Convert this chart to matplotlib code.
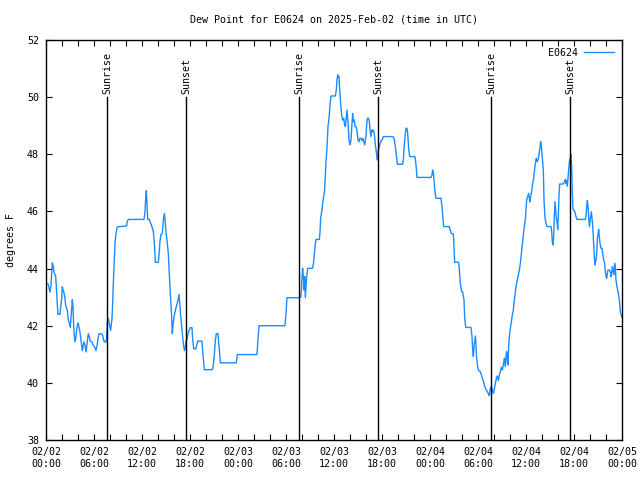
import matplotlib
matplotlib.use("Agg")
import matplotlib.pyplot as plt

plt.rcParams['font.family'] = ['DejaVu Sans Mono']

title = "Dew Point for E0624 on 2025-Feb-02 (time in UTC)"
series_name = "E0624"
ylabel = "degrees F"

# time in hours since 2025-02-02 00:00 UTC
hours = [
    0.0, 0.25, 0.5, 0.625, 0.79, 0.875, 1.0, 1.21, 1.29, 1.42, 1.5, 1.75, 1.83, 1.96, 2.04, 2.125,
    2.25, 2.375, 2.46, 2.67, 2.75, 2.83, 2.96, 3.04, 3.125, 3.21, 3.29, 3.375, 3.46, 3.54, 3.625,
    3.75, 3.875, 4.0, 4.08, 4.21, 4.33, 4.46, 4.54, 4.625, 4.75, 4.875, 5.0, 5.08, 5.21, 5.29,
    5.42, 5.54, 5.75, 5.92, 6.08, 6.25, 6.375, 6.5, 6.625, 7.04, 7.17, 7.29, 7.5, 7.58, 7.67,
    7.79, 7.92, 8.0, 8.08, 8.17, 8.25, 8.33, 8.42, 8.54, 8.625, 8.75, 8.83, 8.92, 10.08, 10.17,
    10.33, 12.25, 12.375, 12.46, 12.54, 12.625, 12.71, 12.92, 13.0, 13.125, 13.25, 13.42,
    13.58, 13.67, 14.04, 14.125, 14.25, 14.375, 14.54, 14.67, 14.79, 14.875, 15.0, 15.125,
    15.29, 15.42, 15.58, 15.71, 15.79, 15.875, 16.0, 16.17, 16.33, 16.5, 16.625, 16.71, 16.83,
    16.96, 17.08, 17.21, 17.33, 17.42, 17.5, 17.625, 17.75, 17.92, 18.04, 18.25, 18.33, 18.46,
    18.71, 18.83, 18.96, 19.5, 19.58, 19.71, 19.79, 20.79, 20.92, 21.04, 21.17, 21.29, 21.5,
    21.58, 21.71, 21.79, 23.79, 23.92, 26.375, 26.5, 26.625, 29.875, 30.0, 30.125, 31.67,
    31.83, 31.92, 32.0, 32.08, 32.17, 32.25, 32.33, 32.42, 32.5, 32.58, 32.71, 33.33, 33.46,
    33.625, 33.75, 34.17, 34.25, 34.33, 34.46, 34.58, 34.71, 34.83, 34.92, 35.0, 35.125, 35.25,
    35.375, 35.5, 35.625, 36.17, 36.29, 36.375, 36.46, 36.54, 36.625, 36.71, 36.83, 36.96,
    37.08, 37.21, 37.33, 37.42, 37.5, 37.625, 37.71, 37.79, 37.875, 38.0, 38.125, 38.25, 38.33,
    38.42, 38.54, 38.625, 38.75, 38.875, 39.0, 39.125, 39.25, 39.375, 39.5, 39.625, 39.71,
    39.83, 39.92, 40.0, 40.08, 40.17, 40.33, 40.42, 40.5, 40.625, 40.71, 40.83, 40.92, 41.0,
    41.08, 41.17, 41.25, 41.33, 41.42, 41.54, 41.67, 41.79, 41.92, 42.04, 42.17, 43.33, 43.46,
    43.58, 43.71, 43.83, 43.92, 44.58, 44.67, 44.75, 44.875, 45.0, 45.125, 45.21, 45.33, 45.46,
    46.125, 46.25, 46.375, 48.125, 48.25, 48.33, 48.42, 48.5, 48.625, 48.75, 49.25, 49.375,
    49.5, 49.625, 49.71, 50.42, 50.5, 50.67, 50.92, 51.0, 51.08, 51.58, 51.67, 51.79, 51.96,
    52.08, 52.25, 52.33, 52.46, 53.125, 53.25, 53.33, 53.42, 53.54, 53.67, 53.75, 53.83, 53.96,
    54.08, 54.29, 54.42, 54.54, 54.67, 54.79, 54.92, 55.04, 55.17, 55.29, 55.42, 55.54, 55.67,
    55.79, 55.92, 56.04, 56.17, 56.29, 56.42, 56.54, 56.67, 56.79, 56.92, 57.04, 57.17, 57.29,
    57.42, 57.5, 57.58, 57.67, 57.75, 57.83, 57.92, 58.04, 58.17, 58.29, 58.42, 58.54, 58.67,
    58.79, 58.92, 59.04, 59.17, 59.29, 59.42, 59.54, 59.67, 59.79, 59.92, 60.0, 60.08, 60.21,
    60.33, 60.42, 60.5, 60.58, 60.71, 60.83, 60.96, 61.04, 61.17, 61.29, 61.375, 61.5, 61.58,
    61.67, 61.75, 61.83, 61.92, 62.0, 62.08, 62.17, 62.25, 62.375, 62.5, 62.625, 63.125, 63.21,
    63.29, 63.375, 63.46, 63.54, 63.625, 63.71, 63.79, 63.875, 63.96, 64.04, 64.125, 64.21,
    64.67, 64.79, 64.92, 65.0, 65.08, 65.17, 65.25, 65.33, 65.42, 65.54, 65.625, 65.71, 65.79,
    65.875, 66.0, 66.125, 66.25, 66.375, 67.42, 67.5, 67.58, 67.67, 67.75, 67.83, 67.92, 68.0,
    68.08, 68.17, 68.25, 68.33, 68.42, 68.54, 68.625, 68.71, 68.83, 68.92, 69.0, 69.08, 69.17,
    69.25, 69.375, 69.5, 69.58, 69.71, 69.83, 69.92, 70.0, 70.08, 70.17, 70.25, 70.42, 70.54,
    70.625, 70.71, 70.79, 70.875, 71.0, 71.08, 71.17, 71.25, 71.33, 71.46, 71.58, 71.67, 71.75,
    71.83, 72.0,
]

dew_point = [
    43.47, 43.47, 43.18, 43.42, 44.2, 44.12, 43.88, 43.73, 43.38, 42.71, 42.4, 42.4, 42.65, 42.95, 43.36, 43.26,
    43.15, 42.95, 42.71, 42.54, 42.3, 42.16, 42.05, 41.95, 42.3, 42.6, 42.91, 42.65, 42.01, 41.66, 41.43,
    41.63, 41.95, 42.09, 42.01, 41.84, 41.6, 41.31, 41.13, 41.27, 41.43, 41.31, 41.08, 41.25, 41.54, 41.72,
    41.6, 41.46, 41.43, 41.31, 41.25, 41.13, 41.31, 41.54, 41.72, 41.7, 41.54, 41.43, 41.43, 41.6, 42.13,
    42.25, 42.07, 41.95, 41.84, 42.05, 42.25, 42.77, 43.53, 44.29, 44.88, 45.23, 45.37, 45.46, 45.49, 45.67,
    45.72, 45.72, 45.99, 46.46, 46.73, 46.28, 45.72, 45.72, 45.64, 45.56, 45.46, 45.29,
    44.74, 44.22, 44.22, 44.47, 44.97, 45.2, 45.23, 45.7, 45.93, 45.75, 45.25, 44.99,
    44.53, 43.77, 42.95, 42.3, 41.72, 42.01, 42.3, 42.54, 42.71, 42.89, 43.1, 42.83, 42.36,
    41.95, 41.6, 41.27, 41.13, 41.27, 41.46, 41.54, 41.72, 41.86, 41.93, 41.93, 41.54, 41.19,
    41.19, 41.31, 41.46, 41.46, 41.13, 40.73, 40.46, 40.46, 40.64, 40.96, 41.49, 41.72, 41.72,
    41.43, 41.02, 40.7, 40.7, 40.99, 40.99, 41.54, 42.0, 42.0, 42.42, 42.98, 42.98,
    42.99, 43.25, 43.72, 44.01, 43.72, 43.25, 43.72, 42.99, 43.37, 43.72, 44.01, 44.01, 44.24,
    44.77, 45.02, 45.02, 45.29, 45.76, 45.99, 46.28, 46.52, 46.75, 47.28, 47.74, 48.24, 48.97,
    49.26, 49.73, 50.04, 50.04, 50.25, 50.6, 50.78, 50.69, 50.72, 50.25, 49.78, 49.38,
    49.2, 49.26, 49.03, 48.97, 49.2, 49.55, 49.26, 48.97, 48.5, 48.33, 48.5, 49.08, 49.43,
    49.14, 49.2, 48.97, 48.97, 48.83, 48.5, 48.44, 48.56, 48.56, 48.48, 48.56, 48.44,
    48.33, 48.5, 48.64, 49.03, 49.26, 49.26, 49.14, 48.85, 48.62, 48.85, 48.79, 48.85, 48.73,
    48.62, 48.33, 48.17, 47.98, 47.8, 48.15, 48.27, 48.41, 48.48, 48.52, 48.62, 48.62, 48.59,
    48.44, 48.17, 47.86, 47.65, 47.65, 47.8, 48.21, 48.62, 48.91, 48.91, 48.73, 48.21, 47.92,
    47.92, 47.63, 47.19, 47.19, 47.28, 47.45, 47.33, 47.1, 46.69, 46.46, 46.46, 46.46,
    46.17, 45.76, 45.47, 45.47, 45.37, 45.23, 45.21, 44.77, 44.22, 44.22, 43.95, 43.48, 43.19,
    43.19, 42.9, 42.32, 41.94, 41.94, 41.62, 41.15, 40.92, 41.38, 41.64, 41.33, 40.86, 40.57,
    40.43, 40.39, 40.28, 40.16, 40.08, 39.93, 39.81, 39.75, 39.69, 39.63, 39.55, 39.81, 39.87,
    39.75, 39.63, 39.77, 39.98, 40.16, 40.24, 40.08, 40.28, 40.39, 40.54, 40.45, 40.63, 40.86,
    40.57, 40.92, 41.09, 40.8, 40.63, 41.27, 41.62, 41.91, 42.14, 42.38, 42.55, 42.9, 43.19,
    43.43, 43.62, 43.78, 43.95, 44.18, 44.53, 44.86, 45.18, 45.47, 45.72, 46.05, 46.4, 46.52,
    46.63, 46.46, 46.34, 46.52, 46.69, 46.98, 47.16, 47.39, 47.68, 47.86, 47.74, 47.8, 47.92,
    48.09, 48.21, 48.44, 48.29, 48.03, 47.74, 47.39, 46.4, 45.79, 45.58, 45.47, 45.47, 45.29,
    44.94, 44.83, 45.12, 45.82, 46.34, 46.05, 45.76, 45.64, 45.37, 45.84, 46.58, 46.96,
    46.96, 47.04, 47.12, 46.98, 47.08, 46.89, 47.16, 47.45, 47.74, 47.86, 48.0, 47.51, 46.63,
    46.07, 46.05, 45.96, 45.82, 45.72, 45.72, 45.82, 46.17, 46.38, 46.17, 45.82, 45.47, 45.64,
    45.82, 45.99, 45.76, 45.53, 45.06, 44.42, 44.13, 44.24, 44.48, 45.06, 45.18, 45.37, 45.12,
    44.88, 44.71, 44.71, 44.53, 44.3, 44.18, 43.89, 43.72, 43.66, 43.83, 43.95, 43.95, 43.89,
    43.72, 43.83, 44.07, 43.95, 43.78, 44.18, 44.01, 43.6, 43.43, 43.25, 43.08, 42.9, 42.67,
    42.43, 42.3,
]

event_hours = [7.67, 17.54, 31.67, 41.54, 55.67, 65.54]
event_labels = ["Sunrise", "Sunset", "Sunrise", "Sunset", "Sunrise", "Sunset"]

xtick_hours = [0, 6, 12, 18, 24, 30, 36, 42, 48, 54, 60, 66, 72]
xtick_labels = ["02/02\n00:00", "02/02\n06:00", "02/02\n12:00", "02/02\n18:00",
                "02/03\n00:00", "02/03\n06:00", "02/03\n12:00", "02/03\n18:00",
                "02/04\n00:00", "02/04\n06:00", "02/04\n12:00", "02/04\n18:00",
                "02/05\n00:00"]
yticks = [38, 40, 42, 44, 46, 48, 50, 52]

FS = 7.2
fig = plt.figure(figsize=(6.4, 4.8), dpi=100)
ax = fig.add_axes([46/640, 40/480, 576/640, 400/480])

ax.plot(hours, dew_point, color='#1a8cff', lw=1.0, label=series_name)

for h, lab in zip(event_hours, event_labels):
    ax.plot([h, h], [38, 50], color='black', lw=1.0)
    ax.text(h, 50.1, lab, rotation=90, ha='center', va='bottom', fontsize=FS)

ax.set_xlim(0, 72)
ax.set_ylim(38, 52)
ax.set_xticks(xtick_hours)
ax.set_xticklabels(xtick_labels, fontsize=FS, linespacing=1.3)
ax.set_xticks(list(range(0, 73, 2)), minor=True)
ax.set_yticks(yticks)
ax.set_yticklabels([str(v) for v in yticks], fontsize=FS)
ax.tick_params(axis='both', which='both', direction='in', top=True, right=True,
               length=4, width=0.8, pad=5)
for s in ax.spines.values():
    s.set_linewidth(1.0)

ax.set_ylabel(ylabel, fontsize=FS)
ax.yaxis.set_label_coords(-0.052, 0.5)

fig.text(334/640, 1 - 19/480, title, ha='center', va='center', fontsize=FS)

ax.legend(loc='upper right', frameon=False, fontsize=FS, markerfirst=False,
          handlelength=3.0, borderaxespad=0.4, handletextpad=0.6)

fig.savefig('out.png', dpi=100)
